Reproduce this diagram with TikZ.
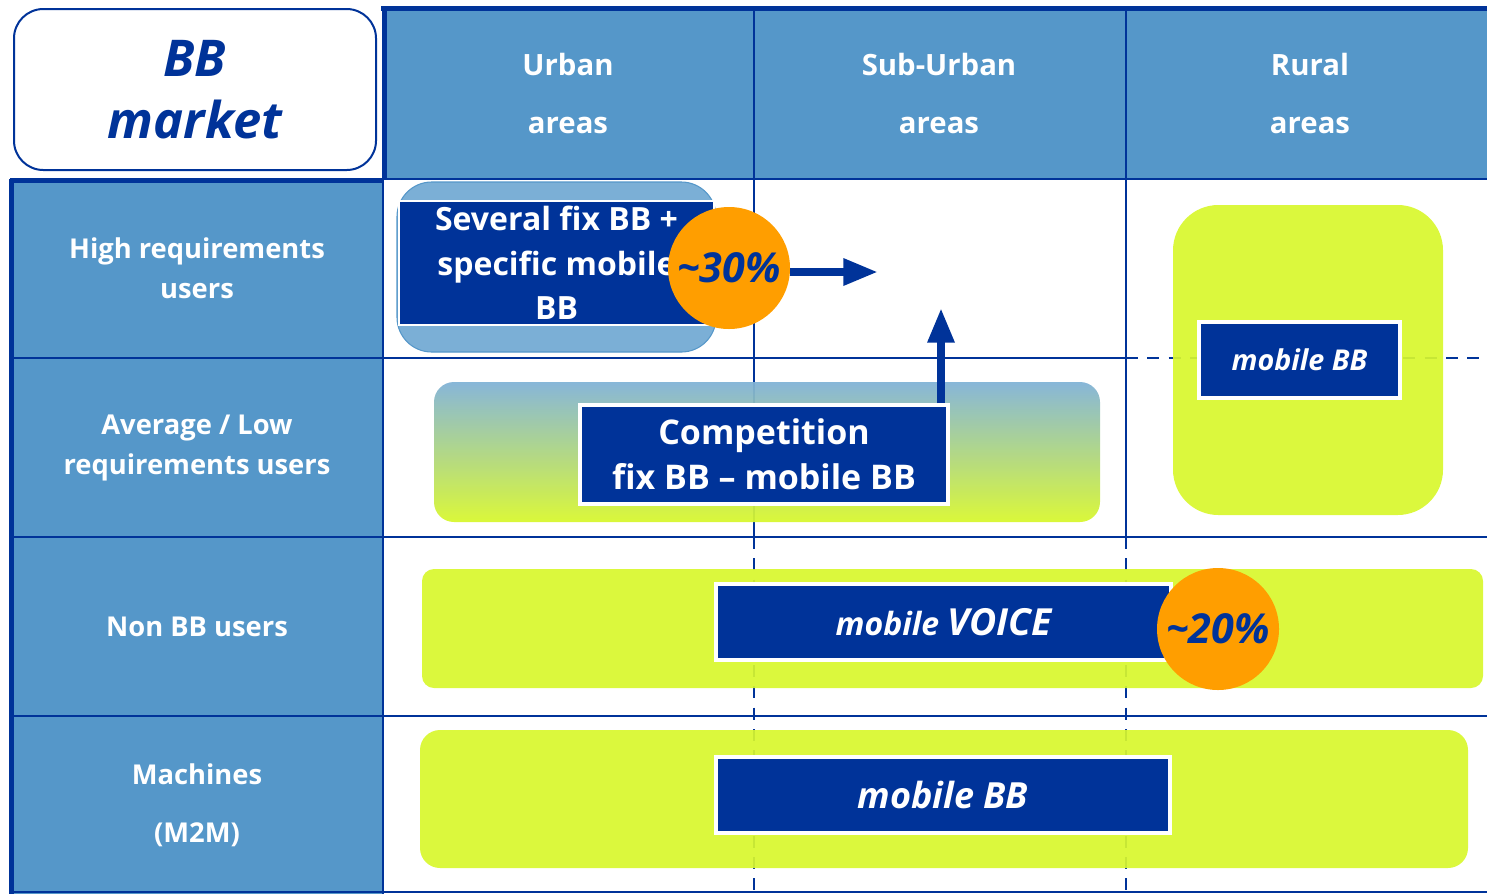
\documentclass[tikz,border=0pt]{standalone}
\usepackage{fontspec}
\setmainfont{Open Sans}
\usetikzlibrary{arrows.meta}
\definecolor{hdrblue}{RGB}{85,151,201}
\definecolor{dkblue}{RGB}{0,51,153}
\definecolor{lime}{RGB}{216,247,45}
\definecolor{orng}{RGB}{255,158,0}
\definecolor{ltblue}{RGB}{123,175,214}
\definecolor{gradtop}{RGB}{128,178,214}
\tikzset{
  grid/.style={dkblue, line width=1.9pt},
  thickb/.style={dkblue, line width=3.75pt},
  dashgrid/.style={dkblue, line width=1.9pt, dash pattern=on 9pt off 7pt},
  hdrtxt/.style={text=white, font=\bfseries\fontsize{22}{43.5}\selectfont, align=center},
  rowtxt/.style={text=white, font=\bfseries\fontsize{20.5}{30}\selectfont, align=center},
  darkbox/.style={fill=dkblue, draw=white, line width=3pt, inner sep=0pt, text=white, align=center},
  limebox/.style={fill=lime, fill opacity=0.92, inner sep=0pt},
  pctcircle/.style={circle, fill=orng, minimum size=91.5pt, inner sep=0pt, text=dkblue, font=\bfseries\itshape\fontsize{31}{36}\selectfont},
  bigarrow/.style={dkblue, line width=6pt, -{Triangle[length=26pt,width=19pt]}}
}
\begin{document}
\begin{tikzpicture}[x=0.75pt,y=-0.75pt]
\useasboundingbox (0,0) rectangle (1487,894);
% fills
\fill[hdrblue] (383,7) rectangle (1487,179);
\fill[hdrblue] (10,179) rectangle (383,894);
% grid lines
\draw[grid] (383,179) -- (1487,179);
\draw[grid] (10,358) -- (1126,358);
\draw[dashgrid] (1126,358) -- (1487,358);
\draw[grid] (10,537) -- (1487,537);
\draw[grid] (10,716) -- (1487,716);
\draw[grid] (10,892) -- (1487,892);
\draw[grid] (383,8) -- (383,894);
\draw[grid] (754,8) -- (754,537);
\draw[grid] (1126,8) -- (1126,537);
\draw[dashgrid] (754,537) -- (754,894);
\draw[dashgrid] (1126,537) -- (1126,894);
\draw[thickb] (381,8.5) -- (1487,8.5);
\draw[thickb] (384.5,6.5) -- (384.5,179);
\draw[thickb] (10,180.5) -- (383,180.5);
\draw[thickb] (11.5,178.5) -- (11.5,894);
% title box
\node[draw=dkblue, line width=1.5pt, fill=white, rounded corners=22pt, minimum width=271.5pt, minimum height=120.75pt, text=dkblue, font=\bfseries\itshape\fontsize{38}{47}\selectfont, align=center] (title) at (195,89.5) {BB\\market};
% header labels
\node[hdrtxt] (urban) at (568,93) {Urban\\areas};
\node[hdrtxt] (suburban) at (939,93) {Sub-Urban\\areas};
\node[hdrtxt] (rural) at (1310,93) {Rural\\areas};
% row labels
\node[rowtxt] (high) at (197,268) {High requirements\\users};
\node[rowtxt] (avg) at (197,448) {Average / Low\\requirements users};
\node[rowtxt] (nonbb) at (197,627) {Non BB users};
\node[rowtxt, font=\bfseries\fontsize{20.5}{43.5}\selectfont] (mach) at (197,805) {Machines\\(M2M)};
% row 1 urban
\node[fill=ltblue, draw=hdrblue, line width=0.8pt, rounded corners=26pt, minimum width=239.25pt, minimum height=127.5pt, inner sep=0pt] (ltshape) at (556.5,267) {};
\node[darkbox, minimum width=236.25pt, minimum height=93pt, line width=1.2pt, font=\bfseries\fontsize{24}{33.5}\selectfont] (several) at (556.5,263) {Several fix BB +\\specific mobile\\BB};
\node[pctcircle] (c30) at (729,268) {\textasciitilde30\%};
\coordinate (a30end) at (878,272);
\draw[bigarrow] (c30.east |- a30end) -- (a30end);
% competition
\node[top color=gradtop, bottom color=lime, rounded corners=15pt, minimum width=499.5pt, minimum height=105pt, inner sep=0pt, fill opacity=0.94] (compbg) at (767,452) {};
\node[darkbox, minimum width=276pt, minimum height=74.25pt, font=\bfseries\fontsize{25.5}{34}\selectfont] (comp) at (764,454.5) {Competition\\fix BB -- mobile BB};
\coordinate (upend) at (941,308);
\draw[bigarrow] ([xshift=-6.75pt]comp.north east) -- (upend);
% rural
\node[limebox, rounded corners=34pt, minimum width=202.5pt, minimum height=232.5pt] (rurallime) at (1308,360) {};
\node[darkbox, minimum width=150.75pt, minimum height=57pt, font=\bfseries\itshape\fontsize{21.5}{26}\selectfont] (ruralbb) at (1299.5,360) {mobile BB};
% row 3
\node[limebox, rounded corners=9pt, minimum width=795.75pt, minimum height=89.25pt] (voicelime) at (952.5,628.5) {};
\node[darkbox, minimum width=341.25pt, minimum height=57pt, font=\bfseries\itshape] (voice) at (943.5,622) {\fontsize{24}{30}\selectfont mobile \fontsize{28}{30}\selectfont VOICE};
\node[pctcircle, minimum size=91.5pt] (c20) at (1218,629) {\textasciitilde20\%};
% row 4
\node[limebox, rounded corners=15pt, minimum width=786pt, minimum height=103.5pt] (m2mlime) at (944,799) {};
\node[darkbox, minimum width=340.5pt, minimum height=57pt, font=\bfseries\itshape\fontsize{27}{30}\selectfont] (m2mbb) at (943,795) {mobile BB};
\end{tikzpicture}
\end{document}
